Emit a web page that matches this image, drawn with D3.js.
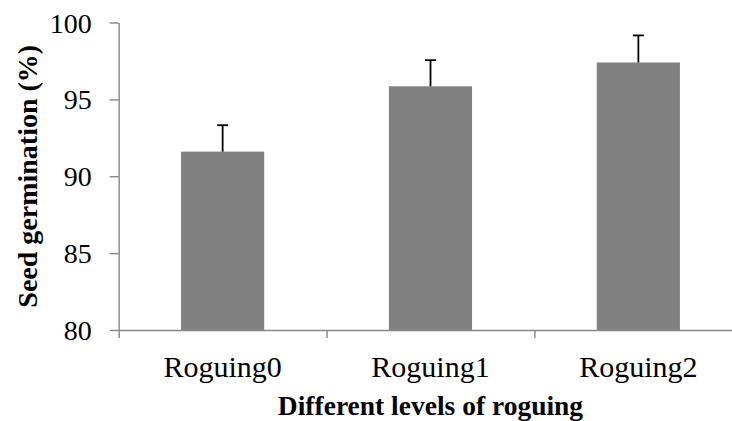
<!DOCTYPE html>
<html lang="en">
  <head>
    <meta charset="utf-8">
    <title>Seed germination by roguing level</title>
    <script src="https://d3js.org/d3.v7.js"></script>
    <style>
      body { margin: 0; background: white; }
      svg { display: block; }
    </style>
  </head>
  <body>
    <script>
    const categories = ["Roguing0", "Roguing1", "Roguing2"];
    const germination = [91.6, 95.85, 97.4];
    const errors = [1.72, 1.7, 1.76];
    const yTicks = [80, 85, 90, 95, 100];

    const w = 732;
    const h = 421;
    // plot area (right end runs off the picture, like the original crop)
    const plotLeft = 118.7, plotRight = 742.3, plotTop = 22.5, plotBottom = 330;
    const serif = "'Liberation Serif', 'Times New Roman', serif";

    const svg = d3.select("body")
      .append("svg")
      .attr("width", w)
      .attr("height", h);

    svg.append("rect")
      .attr("width", w)
      .attr("height", h)
      .attr("fill", "white");

    const x = d3.scaleBand()
      .domain(categories)
      .range([plotLeft, plotRight])
      .padding(0);

    const xEdge = d3.scaleLinear()
      .domain([0, categories.length])
      .range([plotLeft, plotRight]);

    const y = d3.scaleLinear()
      .domain([80, 100])
      .range([plotBottom, plotTop]);

    const data = categories.map((c, i) => ({cat: c, val: germination[i], err: errors[i]}));
    const barW = x.bandwidth() * 0.4;

    // bars
    svg.selectAll("rect.bar")
      .data(data)
      .enter()
      .append("rect")
      .attr("class", "bar")
      .attr("x", d => x(d.cat) + (x.bandwidth() - barW) / 2)
      .attr("y", d => y(d.val))
      .attr("width", barW)
      .attr("height", d => y(80) - y(d.val))
      .attr("fill", "#808080");

    // error bars (upper only)
    const eb = svg.selectAll("g.err")
      .data(data)
      .enter()
      .append("g")
      .attr("class", "err")
      .attr("stroke", "black")
      .attr("stroke-width", 1.8);

    eb.append("line")
      .attr("x1", d => x(d.cat) + x.bandwidth() / 2)
      .attr("x2", d => x(d.cat) + x.bandwidth() / 2)
      .attr("y1", d => y(d.val))
      .attr("y2", d => y(d.val + d.err));

    eb.append("line")
      .attr("x1", d => x(d.cat) + x.bandwidth() / 2 - 5.5)
      .attr("x2", d => x(d.cat) + x.bandwidth() / 2 + 5.5)
      .attr("y1", d => y(d.val + d.err))
      .attr("y2", d => y(d.val + d.err));

    // y axis
    const yAxis = svg.append("g")
      .attr("transform", `translate(${plotLeft},0)`)
      .call(d3.axisLeft(y).tickValues(yTicks).tickSize(9).tickSizeOuter(0).tickPadding(18));

    yAxis.selectAll("text")
      .attr("fill", "black")
      .attr("font-family", serif)
      .attr("font-size", 28)
      .attr("dy", "0.34em");

    // x axis, ticks on category boundaries
    svg.append("g")
      .attr("transform", `translate(0,${plotBottom})`)
      .call(d3.axisBottom(xEdge).tickValues(d3.range(categories.length + 1)).tickFormat("").tickSize(8).tickSizeOuter(0));

    svg.selectAll(".domain, .tick line")
      .attr("stroke", "#868686")
      .attr("stroke-width", 1.4);

    svg.selectAll("text.xlab")
      .data(categories)
      .enter()
      .append("text")
      .attr("class", "xlab")
      .attr("x", d => x(d) + x.bandwidth() / 2)
      .attr("y", 376.5)
      .attr("text-anchor", "middle")
      .attr("font-family", serif)
      .attr("font-size", 30)
      .text(d => d);

    // axis titles
    svg.append("text")
      .attr("x", (plotLeft + plotRight) / 2)
      .attr("y", 415)
      .attr("text-anchor", "middle")
      .attr("font-family", serif)
      .attr("font-weight", "bold")
      .attr("font-size", 27.5)
      .text("Different levels of roguing");

    svg.append("text")
      .attr("transform", `translate(37,${(plotTop + plotBottom) / 2}) rotate(-90)`)
      .attr("text-anchor", "middle")
      .attr("font-family", serif)
      .attr("font-weight", "bold")
      .attr("font-size", 28)
      .text("Seed germination (%)");
    </script>
  </body>
</html>
